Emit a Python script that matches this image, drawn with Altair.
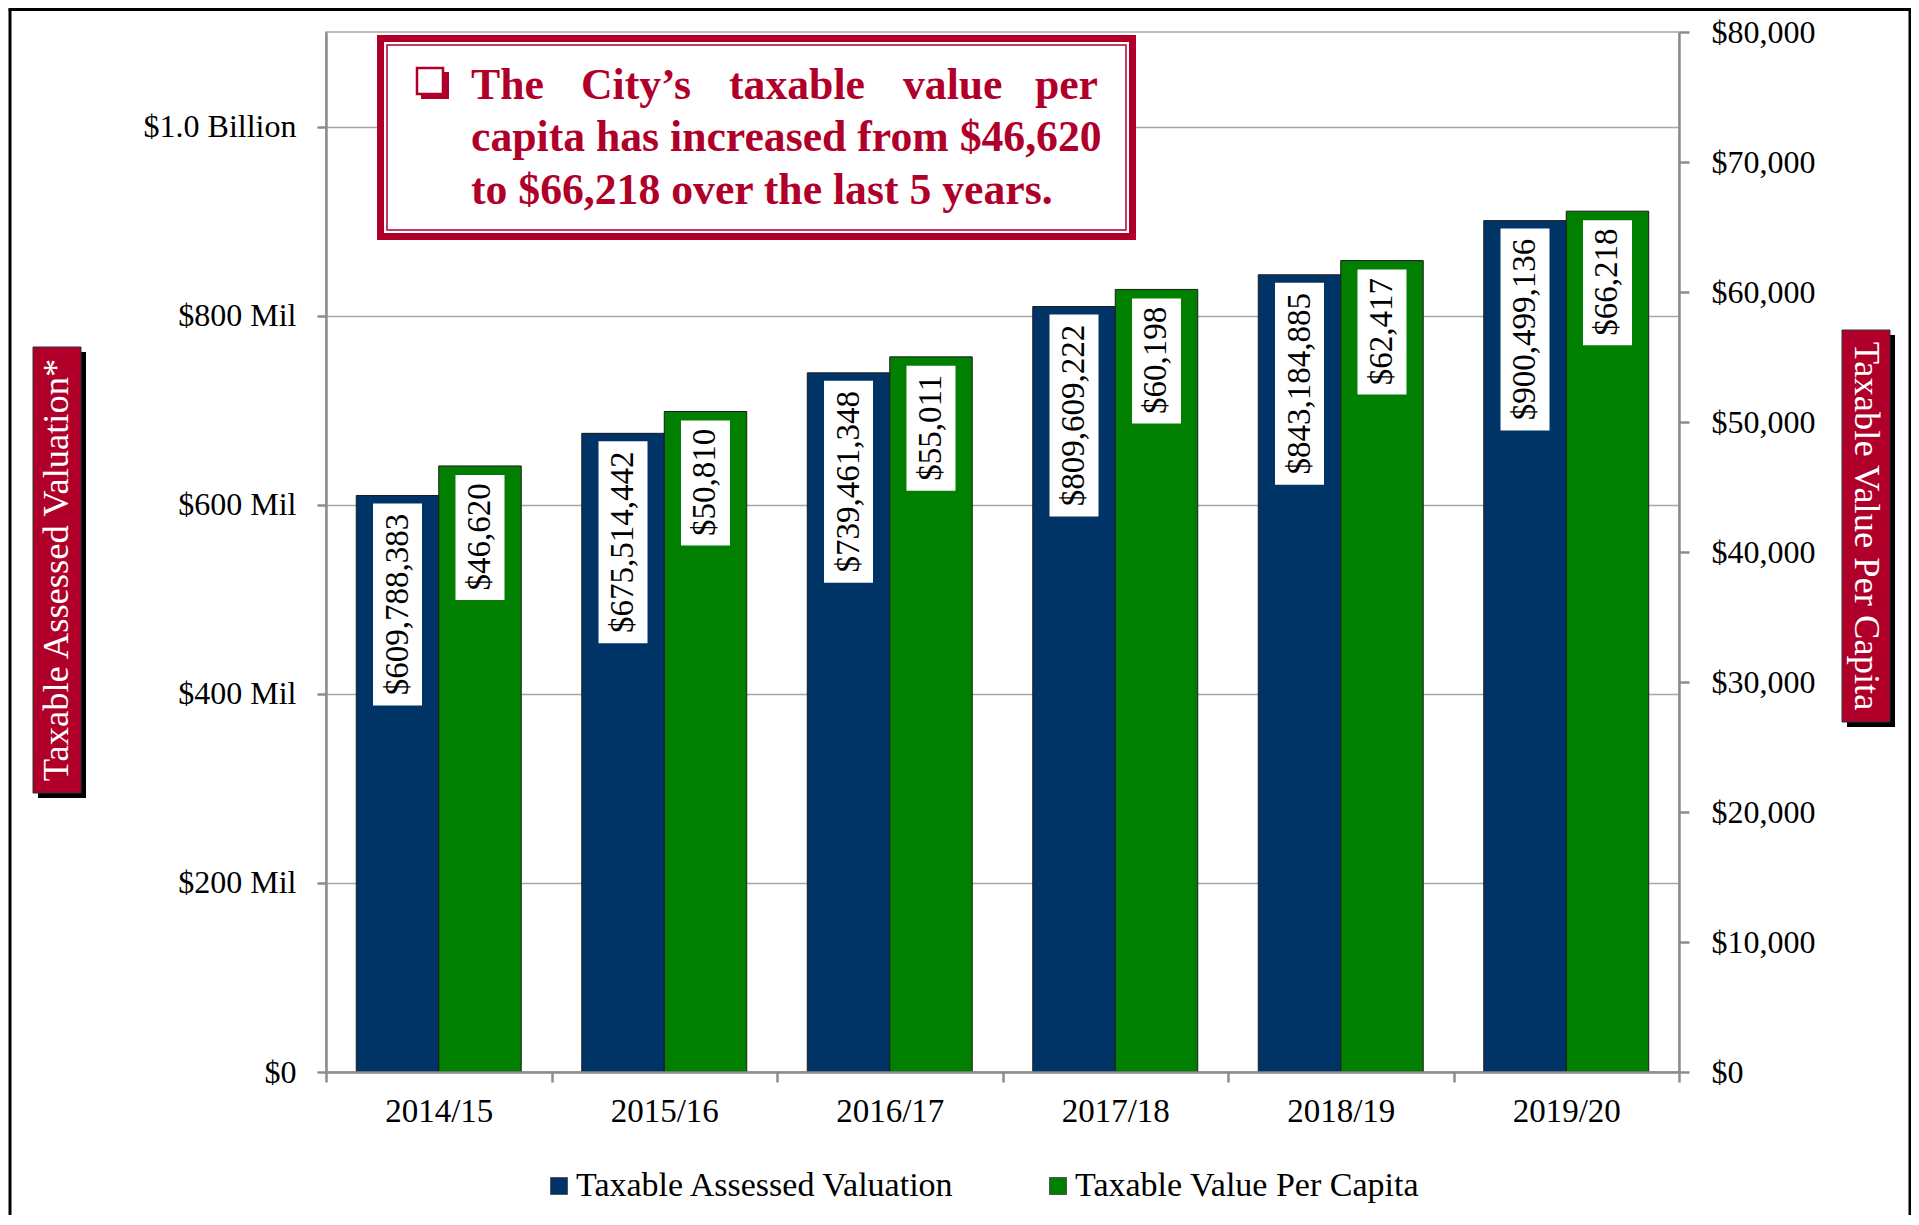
import altair as alt
import pandas as pd

# ---------------- data ----------------
years = ["2014/15", "2015/16", "2016/17", "2017/18", "2018/19", "2019/20"]
assessed = [609788383, 675514442, 739461348, 809609222, 843184885, 900499136]
per_capita = [46620, 50810, 55011, 60198, 62417, 66218]
series = ["Taxable Assessed Valuation", "Taxable Value Per Capita"]
left_ticks = [0, 200000000, 400000000, 600000000, 800000000, 1000000000]
left_tick_labels = ["$0", "$200 Mil", "$400 Mil", "$600 Mil", "$800 Mil", "$1.0 Billion"]
right_ticks = [0, 10000, 20000, 30000, 40000, 50000, 60000, 70000, 80000]
left_title = "Taxable Assessed Valuation*"
right_title = "Taxable Value Per Capita"
note_line1 = ["The", "City\u2019s", "taxable", "value", "per"]
note_line2 = "capita has increased from $46,620"
note_line3 = "to $66,218 over the last 5 years."

# ---------------- styles ----------------
BLUE = "#003466"
GREEN = "#007f00"
RED = "#b0002a"
GRAY = "#8c8c8c"
FONT = "Liberation Serif"
W, H = 1353, 1040

df_a = pd.DataFrame({"year": years, "series": series[0], "value": assessed,
                     "label": ["$" + format(v, ",") for v in assessed]})
df_p = pd.DataFrame({"year": years, "series": series[1], "value": per_capita,
                     "label": ["$" + format(v, ",") for v in per_capita]})
one = pd.DataFrame({"k": [0]})

label_expr = " : ".join(
    [f"datum.value == {v} ? '{t}'" for v, t in zip(left_ticks, left_tick_labels)]
) + " : ''"

x_axis = alt.Axis(title=None, labelAngle=0, tickBand="extent", labelFont=FONT,
                  labelFontSize=33, labelColor="black", labelPadding=13,
                  tickSize=10, tickColor=GRAY, tickWidth=2.5,
                  domainColor=GRAY, domainWidth=2.5, zindex=1)
x_enc = alt.X("year:N", sort=years, scale=alt.Scale(paddingInner=0, paddingOuter=0),
              axis=x_axis)
xoff = alt.XOffset("series:N", scale=alt.Scale(domain=series, paddingInner=0,
                                               paddingOuter=0.367))
color = alt.Color("series:N", scale=alt.Scale(domain=series, range=[BLUE, GREEN]),
                  legend=alt.Legend(title=None, orient="none", legendX=216, legendY=1137,
                                    direction="horizontal", symbolType="square",
                                    symbolSize=289, labelFont=FONT, labelFontSize=34,
                                    labelColor="black", labelOffset=0, labelLimit=0,
                                    columnPadding=85, symbolStrokeColor="#555555",
                                    symbolStrokeWidth=1))

yl_scale = alt.Scale(domain=[0, 1100000000], nice=False)
yr_scale = alt.Scale(domain=[0, 80000], nice=False)

left_axis = alt.Axis(title=None, orient="left", values=left_ticks, labelExpr=label_expr,
                     grid=True, gridColor="#a6a6a6", gridWidth=1.5,
                     labelFont=FONT, labelFontSize=32, labelColor="black",
                     labelPadding=21, tickSize=9, tickColor=GRAY, tickWidth=2.5,
                     domainColor=GRAY, domainWidth=2.5)
right_axis = alt.Axis(title=None, orient="right", values=right_ticks, format="$,.0f",
                      grid=False, labelFont=FONT, labelFontSize=32, labelColor="black",
                      labelPadding=22, tickSize=10, tickColor=GRAY, tickWidth=2.5,
                      domainColor=GRAY, domainWidth=2.5)

yl = alt.Y("value:Q", scale=yl_scale, axis=left_axis)
yr = alt.Y("value:Q", scale=yr_scale, axis=right_axis)

# ---------------- assessed valuation (left axis) ----------------
bars_a = alt.Chart(df_a).mark_bar(stroke="#1a1a1a", strokeWidth=1).encode(
    x=x_enc, xOffset=xoff, y=yl, color=color)
box_a = alt.Chart(df_a).mark_bar(color="white", width=49, yOffset=8, y2Offset=210).encode(
    x=x_enc, xOffset=xoff, y=yl, y2="value:Q")
text_a = alt.Chart(df_a).mark_text(angle=270, font=FONT, fontSize=33, color="black",
                                   align="center", baseline="middle", yOffset=109).encode(
    x=x_enc, xOffset=xoff, y=yl, text="label:N")
left = alt.layer(bars_a, box_a, text_a)

# ---------------- per capita (right axis) ----------------
bars_p = alt.Chart(df_p).mark_bar(stroke="#1a1a1a", strokeWidth=1).encode(
    x=x_enc, xOffset=xoff, y=yr, color=color)
box_p = alt.Chart(df_p).mark_bar(color="white", width=49, yOffset=9, y2Offset=134).encode(
    x=x_enc, xOffset=xoff, y=yr, y2="value:Q")
text_p = alt.Chart(df_p).mark_text(angle=270, font=FONT, fontSize=33, color="black",
                                   align="center", baseline="middle", yOffset=71).encode(
    x=x_enc, xOffset=xoff, y=yr, text="label:N")
right = alt.layer(bars_p, box_p, text_p)


# ---------------- decorations ----------------
def rect(x, x2, y, y2, **kw):
    return alt.Chart(one).mark_rect(**kw).encode(
        x=alt.value(x), x2=alt.value(x2), y=alt.value(y), y2=alt.value(y2))


def vrule(x, y, y2, **kw):
    return alt.Chart(one).mark_rule(**kw).encode(
        x=alt.value(x), y=alt.value(y), y2=alt.value(y2))


def hrule(x, x2, y, **kw):
    return alt.Chart(one).mark_rule(**kw).encode(
        x=alt.value(x), x2=alt.value(x2), y=alt.value(y))


def txt(s, x, y, **kw):
    return alt.Chart(one).mark_text(**kw).encode(
        x=alt.value(x), y=alt.value(y), text=alt.value(s))


fstyle = dict(color="black", strokeWidth=3)
frame = [
    vrule(-316, -22.5, 1183, **fstyle),
    vrule(1584, -22.5, 1183, **fstyle),
    hrule(-317.5, 1585.5, -22.5, **fstyle),
]

note_outer = rect(54.5, 806.5, 6.5, 204.5, fill="white", stroke=RED, strokeWidth=7)
note_inner = rect(61, 800, 13, 198, fillOpacity=0, stroke=RED, strokeWidth=1.5)
bullet_shadow = rect(95, 123, 40, 67, fill=RED)
bullet_box = rect(91, 117, 36, 62, fill="white", stroke=RED, strokeWidth=2.5)

nstyle = dict(font=FONT, fontSize=43.7, fontWeight="bold", color=RED, baseline="alphabetic")
line1_x = [145, 255, 403, 577]
note_texts = [txt(w, xx, 67, align="left", **nstyle) for w, xx in zip(note_line1[:4], line1_x)]
note_texts.append(txt(note_line1[4], 772, 67, align="right", **nstyle))
note_texts.append(txt(note_line2, 145, 119, align="left", **nstyle))
note_texts.append(txt(note_line3, 145, 172, align="left", **nstyle))

lt_shadow = rect(-288, -240, 320, 766, fill="black")
lt_box = rect(-293, -245, 315, 761, fill=RED, stroke="#333333", strokeWidth=1)
lt_text = txt(left_title, -269, 538, angle=270, font=FONT, fontSize=36.5, color="white",
              align="center", baseline="middle")
rt_shadow = rect(1521, 1569, 303, 695, fill="black")
rt_box = rect(1516, 1564, 298, 690, fill=RED, stroke="#333333", strokeWidth=1)
rt_text = txt(right_title, 1540, 494, angle=90, font=FONT, fontSize=36.5, color="white",
              align="center", baseline="middle")

chart = alt.layer(
    *frame, left, right,
    note_outer, note_inner, bullet_shadow, bullet_box, *note_texts,
    lt_shadow, lt_box, lt_text, rt_shadow, rt_box, rt_text,
).resolve_scale(y="independent").properties(
    width=W, height=H,
    autosize=alt.AutoSizeParams(type="none"),
    padding={"left": 318, "top": 24, "right": 232, "bottom": 145},
    background="white",
).configure_view(stroke="#a6a6a6", strokeWidth=1.5)

chart.save("out.html", embed_options={"renderer": "svg", "actions": False})
